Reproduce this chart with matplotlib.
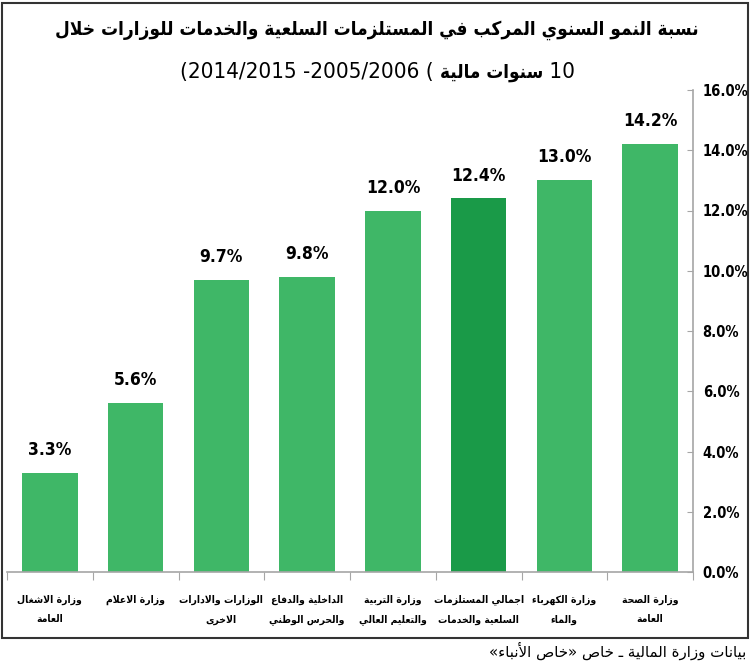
import numpy as np
import matplotlib
matplotlib.use('Agg')
from matplotlib import pyplot as plt
from matplotlib.patches import Rectangle

# Data (left to right as drawn)
categories = [
    'وزارة الاشغال\nالعامة',
    'وزارة الاعلام',
    'الوزارات والادارات\nالاخرى',
    'الداخلية والدفاع\nوالحرس الوطني',
    'وزارة التربية\nوالتعليم العالي',
    'اجمالي المستلزمات\nالسلعية والخدمات',
    'وزارة الكهرباء\nوالماء',
    'وزارة الصحة\nالعامة',
]
values = [3.3, 5.6, 9.7, 9.8, 12.0, 12.4, 13.0, 14.2]
highlight = 5  # total bar, drawn darker
yticks = [0, 2, 4, 6, 8, 10, 12, 14, 16]

title_1 = 'نسبة النمو السنوي المركب في المستلزمات السلعية والخدمات للوزارات خلال'
title_2_words = 'سنوات مالية'
title_2_years = '(2014/2015 -2005/2006 ( '
title_2_count = ' 10'
source = 'بيانات وزارة المالية ـ خاص «خاص الأنباء»'

# Arabic shaping: presentation forms + right-to-left order
DUAL = {'ئ': 0xFE89, 'ب': 0xFE8F, 'ت': 0xFE95, 'ث': 0xFE99, 'ج': 0xFE9D,
        'ح': 0xFEA1, 'خ': 0xFEA5, 'س': 0xFEB1, 'ش': 0xFEB5, 'ص': 0xFEB9,
        'ض': 0xFEBD, 'ط': 0xFEC1, 'ظ': 0xFEC5, 'ع': 0xFEC9, 'غ': 0xFECD,
        'ف': 0xFED1, 'ق': 0xFED5, 'ك': 0xFED9, 'ل': 0xFEDD, 'م': 0xFEE1,
        'ن': 0xFEE5, 'ه': 0xFEE9, 'ي': 0xFEF1}
RIGHT = {'آ': 0xFE81, 'أ': 0xFE83, 'ؤ': 0xFE85, 'إ': 0xFE87, 'ا': 0xFE8D,
         'ة': 0xFE93, 'د': 0xFEA9, 'ذ': 0xFEAB, 'ر': 0xFEAD, 'ز': 0xFEAF,
         'و': 0xFEED, 'ى': 0xFEEF}
LAM_ALEF = {'ا': 0xFEFB, 'أ': 0xFEF7, 'إ': 0xFEF9, 'آ': 0xFEF5}
MIRROR = {'(': ')', ')': '(', '«': '»', '»': '«'}


def ar_line(text):
    units = []
    i = 0
    while i < len(text):
        c = text[i]
        if c == 'ل' and i + 1 < len(text) and text[i + 1] in LAM_ALEF:
            units.append(('R', LAM_ALEF[text[i + 1]], c))
            i += 2
            continue
        if c in DUAL:
            units.append(('D', DUAL[c], c))
        elif c in RIGHT:
            units.append(('R', RIGHT[c], c))
        else:
            units.append((None, None, c))
        i += 1
    out = []
    for j, (kind, base, c) in enumerate(units):
        if kind is None:
            out.append(MIRROR.get(c, c))
            continue
        p = j > 0 and units[j - 1][0] == 'D'
        n = kind == 'D' and j + 1 < len(units) and units[j + 1][0] in ('D', 'R')
        out.append(chr(base + (1 if p else 0) + (2 if n else 0)))
    return ''.join(reversed(out))


def ar(text):
    return '\n'.join(ar_line(t) for t in text.split('\n'))


FONT = ['DejaVu Sans']
NARROW = dict(family=FONT, fontstretch='condensed')

light = '#3fb767'
dark = '#1a9a48'
colors = [dark if i == highlight else light for i in range(len(values))]

fig = plt.figure(figsize=(7.5, 6.72), dpi=100)
ax = fig.add_axes([7 / 750, 1 - 572 / 672, 686 / 750, 482 / 672])

x = np.arange(len(values))
bars = ax.bar(x, values, width=0.65, color=colors, zorder=2)

for xi, v in zip(x, values):
    ax.annotate(f'{v:.1f}%', (xi, v), xytext=(0, 10), textcoords='offset points',
                ha='center', va='bottom', fontsize=12.5, fontweight='bold', **NARROW)

ax.set_xlim(-0.5, len(values) - 0.5)
ax.set_ylim(0, 16)
ax.set_yticks(yticks)
ax.set_yticklabels([f'{t:.1f}%' for t in yticks], fontsize=10.5,
                   fontweight='bold', **NARROW)
ax.yaxis.tick_right()
ax.tick_params(axis='y', direction='in', length=4, color='#a6a6a6', pad=7)

ax.set_xticks(np.arange(-0.5, len(values), 1))
ax.set_xticklabels([])
ax.tick_params(axis='x', direction='out', length=6, color='#a6a6a6')

for s in ['left', 'top']:
    ax.spines[s].set_visible(False)
for s in ['right', 'bottom']:
    ax.spines[s].set_color('#a6a6a6')
    ax.spines[s].set_linewidth(1.2)

for xi, lab in zip(x, categories):
    ax.text(xi, -0.75, ar(lab), ha='center', va='top', multialignment='center',
            fontsize=7.5, fontweight='bold', linespacing=2.2, **NARROW)

# Title
fig.text(377 / 750, 1 - 30 / 672, ar(title_1), ha='center', va='center',
         fontsize=13.6, fontweight='bold', **NARROW)
t_years = fig.text(180 / 750, 1 - 72 / 672, title_2_years, ha='left', va='center',
                   fontsize=16, **NARROW)
t_words = ax.annotate(ar(title_2_words), xy=(1, 0.5), xycoords=t_years,
                      ha='left', va='center', fontsize=13.5, fontweight='bold',
                      annotation_clip=False, **NARROW)
ax.annotate(title_2_count, xy=(1, 0.5), xycoords=t_words, ha='left', va='center',
            fontsize=16, annotation_clip=False, **NARROW)

# Source line
fig.text(746 / 750, 1 - 651 / 672, ar(source), ha='right', va='center',
         fontsize=10.8, family=FONT)

# Frame around the chart
fig.patches.append(Rectangle((2 / 750, 1 - 638 / 672), 746 / 750, 635 / 672,
                             transform=fig.transFigure, fill=False,
                             edgecolor='#333333', linewidth=1.5))

fig.savefig('out.png', dpi=100)
